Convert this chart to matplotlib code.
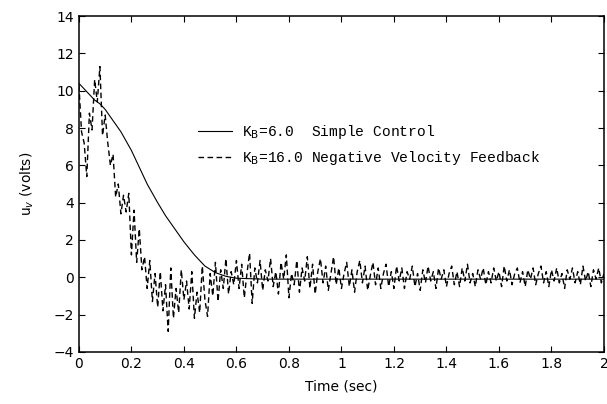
import numpy as np
import matplotlib
matplotlib.use("Agg")
import matplotlib.pyplot as plt
from matplotlib.ticker import FormatStrFormatter

# solid curve: K_B = 6.0, simple control
solid_t = [0, 0.02, 0.04, 0.06, 0.08, 0.10, 0.12, 0.14, 0.16, 0.18, 0.20, 0.22,
           0.24, 0.26, 0.28, 0.30, 0.33, 0.36, 0.40, 0.44, 0.48, 0.52, 0.56, 0.60,
           0.70, 0.80, 1.0, 1.5, 2.0]
solid_y = [10.4, 10.1, 9.8, 9.5, 9.3, 9.0, 8.6, 8.2, 7.8, 7.3, 6.8, 6.2,
           5.6, 5.0, 4.5, 4.0, 3.3, 2.7, 1.9, 1.2, 0.6, 0.25, 0.05, -0.05,
           -0.1, -0.1, -0.1, -0.1, -0.1]

# dashed curve: K_B = 16.0, negative velocity feedback, sampled every 0.01 s
dt = 0.01
dashed_y = [
    10.3, 7.8, 7.2, 5.4, 8.8, 7.9, 10.6, 9.4, 11.3, 7.6, 8.7,
    7.2, 6.0, 6.6, 4.3, 5.0, 3.4, 4.4, 3.5, 4.5,
    1.2, 3.6, 0.8, 2.6, 0.4, 1.1, -0.6, 0.9, -1.3, 0.2, -1.6,
    0.3, -1.8, -0.4, -2.9, 0.5, -2.2, -0.6, -1.9, 0.4, -1.2,
    -0.2, -1.7, 0.3, -2.2, -0.8, -1.9, 0.6, -1.2, -2.1, 0.2,
    -1.0, 0.8, -1.3, 0.4, -0.6, 1.0, -0.9, 0.3, -0.4, 0.9,
    -0.6, 0.7, -1.1, 0.2, 1.3, -1.4, 0.5, -0.3, 0.9, -0.7,
    0.4, -0.2, 1.0, -0.5, 0.3, -0.9, 0.8, -0.1, 1.2, -1.1,
    0.2, -0.4, 0.9, -0.8, 0.5, -0.2, 1.1, -0.6, 0.7, -0.9,
    0.3, 1.0, -0.3, 0.6, -0.7, 0.2, 1.1, -0.4, 0.5, -0.6,
    0.2, 0.8, -0.5, 0.4, -0.8, 0.3, 0.9, -0.3, 0.6, -0.7,
    0.1, 0.8, -0.4, 0.5, -0.6, 0.2, 0.7, -0.5, 0.3, -0.6,
    0.6, -0.2, 0.5, -0.6, 0.3, -0.1, 0.6, -0.5, 0.2, -0.7,
    0.4, -0.3, 0.6, -0.2, 0.3, -0.6, 0.5, -0.1, 0.4, -0.5,
    0.2, 0.6, -0.4, 0.3, -0.5, 0.5, -0.2, 0.7, -0.3, 0.2,
    -0.5, 0.4, -0.1, 0.5, -0.4, 0.3, -0.3, 0.5, -0.2, 0.3,
    -0.5, 0.6, -0.2, 0.4, -0.4, 0.2, 0.5, -0.3, 0.3, -0.5,
    0.4, -0.1, 0.5, -0.4, 0.2, 0.6, -0.3, 0.3, -0.5, 0.4,
    -0.2, 0.5, -0.3, 0.2, -0.6, 0.4, -0.1, 0.5, -0.3, 0.3,
    -0.4, 0.6, -0.2, 0.3, -0.5, 0.4, -0.1, 0.5, -0.3, 0.2,
]
dashed_t = np.arange(len(dashed_y)) * dt

labels = [r"K$_\mathrm{B}$=6.0  Simple Control",
          r"K$_\mathrm{B}$=16.0 Negative Velocity Feedback"]

fig = plt.figure(figsize=(6.07, 4.04), dpi=100)
ax = fig.add_axes([0.130, 0.129, 0.865, 0.831])

ax.plot(solid_t, solid_y, color="black", lw=0.8, label=labels[0])
ax.plot(dashed_t, dashed_y, color="black", lw=1.0, dashes=(4, 2.5), label=labels[1])

ax.set_xlim(0, 2)
ax.set_ylim(-4, 14)
ax.set_xticks(np.arange(0, 2.01, 0.2))
ax.set_yticks(np.arange(-4, 14.01, 2))
ax.xaxis.set_major_formatter(FormatStrFormatter("%g"))
ax.tick_params(direction="in", top=True, right=True, length=4, labelsize=10)
for s in ax.spines.values():
    s.set_linewidth(1.1)

ax.set_xlabel("Time (sec)", fontsize=10, labelpad=6)
ax.set_ylabel(r"u$_v$ (volts)", fontsize=10, labelpad=13)

ax.legend(loc="center", bbox_to_anchor=(0.553, 0.616), frameon=False,
          prop={"family": "Liberation Mono", "size": 10.5},
          handlelength=2.3, handletextpad=0.7, labelspacing=0.6)

fig.savefig("out.png", dpi=100)
